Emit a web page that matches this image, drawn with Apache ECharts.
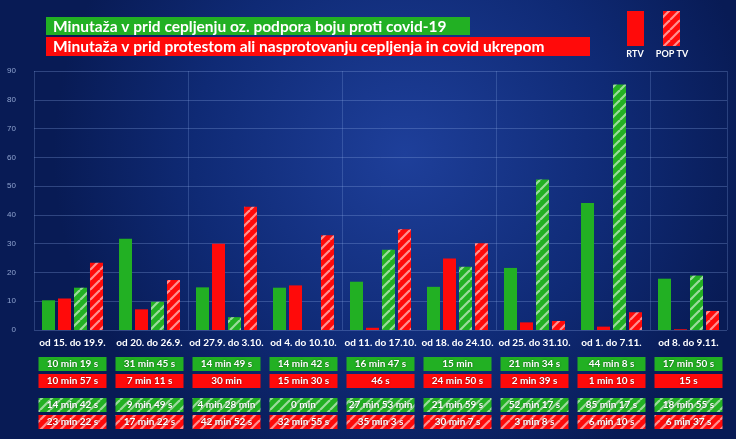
<!DOCTYPE html>
<html><head><meta charset="utf-8">
<script src="https://cdn.jsdelivr.net/npm/echarts@6/dist/echarts.min.js"></script>
<style>html,body{margin:0;padding:0;background:#0b1f5c}#c{width:736px;height:439px}</style>
</head><body><div id="c"></div>
<script>
const categories=['od 15. do 19.9.','od 20. do 26.9.','od 27.9. do 3.10.','od 4. do 10.10.','od 11. do 17.10.','od 18. do 24.10.','od 25. do 31.10.','od 1. do 7.11.','od 8. do 9.11.'];
const rtvFor=[10.32,31.75,14.82,14.7,16.78,15,21.57,44.13,17.83];
const rtvAgainst=[10.95,7.18,30,15.5,0.77,24.83,2.65,1.17,0.25];
const popFor=[14.7,9.82,4.47,0,27.88,21.98,52.28,85.28,18.92];
const popAgainst=[23.37,17.37,42.87,32.92,35.05,30.12,3.13,6.17,6.62];
const rtvForLbl=['10 min 19 s','31 min 45 s','14 min 49 s','14 min 42 s','16 min 47 s','15 min','21 min 34 s','44 min 8 s','17 min 50 s'];
const rtvAgainstLbl=['10 min 57 s','7 min 11 s','30 min','15 min 30 s','46 s','24 min 50 s','2 min 39 s','1 min 10 s','15 s'];
const popForLbl=['14 min 42 s','9 min 49 s','4 min 28 min','0 min','27 min 53 min','21 min 59 s','52 min 17 s','85 min 17 s','18 min 55 s'];
const popAgainstLbl=['23 min 22 s','17 min 22 s','42 min 52 s','32 min 55 s','35 min 3 s','30 min 7 s','3 min 8 s','6 min 10 s','6 min 37 s'];
const legendFor='Minutaža v prid cepljenju oz. podpora boju proti covid-19';
const legendAgainst='Minutaža v prid protestom ali nasprotovanju cepljenja in covid ukrepom';

const GREEN='#22b023',RED='#ff0a0a';
function stripes(base){const c=document.createElement('canvas');c.width=c.height=10;const g=c.getContext('2d');
g.fillStyle=base;g.fillRect(0,0,10,10);g.strokeStyle='rgba(255,255,255,0.55)';g.lineWidth=2.2;
for(let k=-10;k<=20;k+=10){g.beginPath();g.moveTo(k,10);g.lineTo(k+10,0);g.stroke();}return c;}
const sG={image:stripes(GREEN),repeat:'repeat'},sR={image:stripes(RED),repeat:'repeat'};
const chart=echarts.init(document.getElementById('c'));
const font='Lato, "Open Sans", sans-serif';
chart.setOption({
 backgroundColor:{type:'radial',x:0.55,y:0.35,r:0.8,colorStops:[{offset:0,color:'#1e3f9a'},{offset:0.6,color:'#0f2a75'},{offset:1,color:'#081b55'}]},
 animation:false,
 grid:{left:34,right:9,top:71,bottom:109},
 xAxis:{type:'category',data:categories,axisLine:{show:false},axisTick:{show:false},axisLabel:{show:false},
   splitLine:{show:true,lineStyle:{color:'rgba(140,170,230,0.25)'}}},
 yAxis:{type:'value',min:0,max:90,interval:10,axisLabel:{color:'#8fa3cf',fontSize:8,margin:18},
   splitLine:{lineStyle:{color:'rgba(140,170,230,0.3)'}}},
 series:[
  {type:'bar',data:rtvFor,barWidth:13,barGap:'23%',itemStyle:{color:GREEN}},
  {type:'bar',data:rtvAgainst,barWidth:13,itemStyle:{color:RED}},
  {type:'bar',data:popFor,barWidth:13,itemStyle:{color:sG}},
  {type:'bar',data:popAgainst,barWidth:13,itemStyle:{color:sR}}
 ]
});
const g=[];
g.push({type:'rect',shape:{x:46,y:17,width:424,height:18},style:{fill:GREEN}});
g.push({type:'text',x:53,y:26.5,style:{text:legendFor,fill:'#fff',font:'bold 15.5px '+font,textVerticalAlign:'middle'}});
g.push({type:'rect',shape:{x:46,y:37,width:544,height:19},style:{fill:RED}});
g.push({type:'text',x:53,y:47,style:{text:legendAgainst,fill:'#fff',font:'bold 15.5px '+font,textVerticalAlign:'middle'}});
g.push({type:'rect',shape:{x:627,y:11,width:17,height:35},style:{fill:RED}});
g.push({type:'rect',shape:{x:663,y:11,width:17,height:35},style:{fill:sR}});
g.push({type:'text',x:635,y:50,style:{text:'RTV',fill:'#fff',font:'bold 9px '+font,textAlign:'center'}});
g.push({type:'text',x:672,y:50,style:{text:'POP TV',fill:'#fff',font:'bold 9px '+font,textAlign:'center'}});
const rows=[[rtvForLbl,GREEN,357],[rtvAgainstLbl,RED,374],[popForLbl,sG,398],[popAgainstLbl,sR,415]];
categories.forEach((c,i)=>{
 const cx=chart.convertToPixel({xAxisIndex:0},i);
 g.push({type:'text',x:cx,y:343,style:{text:c,fill:'#fff',font:'bold 10px '+font,textAlign:'center',textVerticalAlign:'middle'}});
 rows.forEach(([arr,fill,y])=>{
  g.push({type:'rect',shape:{x:cx-34,y:y,width:68,height:14},style:{fill:fill}});
  g.push({type:'text',x:cx,y:y+7,style:{text:arr[i],fill:'#fff',font:'bold 10px '+font,textAlign:'center',textVerticalAlign:'middle',textShadowColor:'rgba(0,0,0,0.5)',textShadowBlur:2}});
 });
});
chart.setOption({graphic:g});
</script></body></html>
